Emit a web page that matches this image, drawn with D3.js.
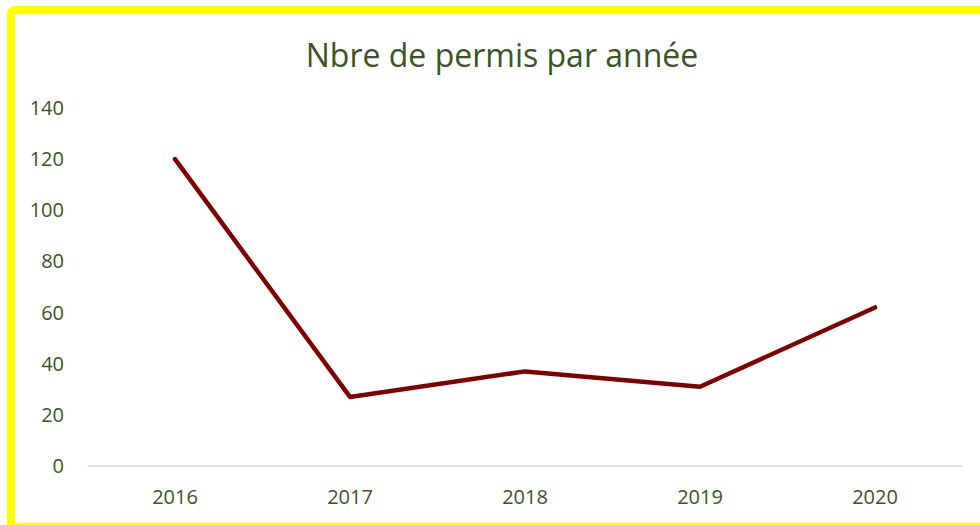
<!DOCTYPE html>
<html>
<head>
<meta charset="utf-8">
<script src="https://cdn.jsdelivr.net/npm/d3@7"></script>
<style>
  body { margin: 0; background: #fff; }
  svg { display: block; }
</style>
</head>
<body>
<div id="chart"></div>
<script>
const years = ["2016", "2017", "2018", "2019", "2020"];
const permis = [120, 27, 37, 31, 62];
const yTicks = [0, 20, 40, 60, 80, 100, 120, 140];

const W = 980, H = 525;
const textColor = "#375623";
const font = "'Open Sans', 'Noto Sans', sans-serif";

const svg = d3.select("#chart")
	.append("svg")
	.attr("width", W)
	.attr("height", H);

// yellow frame (cropped on the right and bottom)
svg.append("rect")
	.attr("x", 11).attr("y", 10)
	.attr("width", 1000).attr("height", 517)
	.attr("rx", 4)
	.attr("fill", "#fff")
	.attr("stroke", "#ffff00")
	.attr("stroke-width", 8);

// title
svg.append("text")
	.attr("x", 502)
	.attr("y", 67)
	.attr("text-anchor", "middle")
	.style("font-family", font)
	.style("font-size", "32px")
	.style("fill", textColor)
	.text("Nbre de permis par année");

const x = d3.scaleBand()
	.domain(years)
	.range([87.5, 962.5]);

const y = d3.scaleLinear()
	.domain([0, 140])
	.range([466, 108]);

// baseline
svg.append("line")
	.attr("x1", x.range()[0]).attr("x2", x.range()[1])
	.attr("y1", y(0)).attr("y2", y(0))
	.attr("stroke", "#d9d9d9")
	.attr("stroke-width", 1.5);

// y tick labels
svg.append("g")
	.selectAll("text")
	.data(yTicks)
	.join("text")
	.attr("x", 64)
	.attr("y", d => y(d))
	.attr("dy", "0.35em")
	.attr("text-anchor", "end")
	.style("font-family", font)
	.style("font-size", "20px")
	.style("fill", textColor)
	.text(d => d);

// x tick labels
svg.append("g")
	.selectAll("text")
	.data(years)
	.join("text")
	.attr("x", d => x(d) + x.bandwidth() / 2)
	.attr("y", 497)
	.attr("dy", "0.35em")
	.attr("text-anchor", "middle")
	.style("font-family", font)
	.style("font-size", "20px")
	.style("fill", textColor)
	.text(d => d);

// line
const line = d3.line()
	.x((d, i) => x(years[i]) + x.bandwidth() / 2)
	.y(d => y(d));

svg.append("path")
	.datum(permis)
	.attr("d", line)
	.attr("fill", "none")
	.attr("stroke", "#800000")
	.attr("stroke-width", 4.5)
	.attr("stroke-linecap", "round")
	.attr("stroke-linejoin", "round");
</script>
</body>
</html>
